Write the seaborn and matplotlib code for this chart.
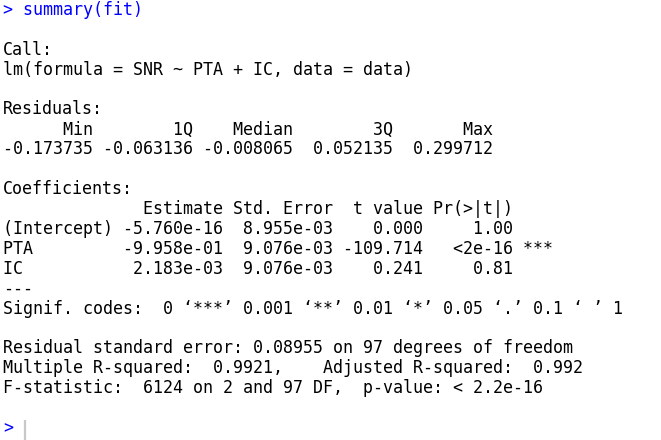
import matplotlib
matplotlib.use("Agg")
import matplotlib.pyplot as plt
import seaborn as sns

# values of the summary(fit) output
call_text = "lm(formula = SNR ~ PTA + IC, data = data)"
resid_labels = ["Min", "1Q", "Median", "3Q", "Max"]
resid_values = [-0.173735, -0.063136, -0.008065, 0.052135, 0.299712]

coef_names = ["(Intercept)", "PTA", "IC"]
coef_estimate = ["-5.760e-16", "-9.958e-01", "2.183e-03"]
coef_stderr = ["8.955e-03", "9.076e-03", "9.076e-03"]
coef_tvalue = [0.000, -109.714, 0.241]
coef_pvalue = ["1.00", "<2e-16", "0.81"]
coef_stars = ["", "***", ""]

resid_se = 0.08955
df_resid = 97
df_model = 2
r_squared = 0.9921
adj_r_squared = 0.992
f_stat = 6124
p_value = "< 2.2e-16"

PROMPT = "#0000ff"
OUTPUT = "#000000"

sns.set_theme(style="white")
plt.rcParams["font.family"] = ["DejaVu Sans Mono"]

# build the console lines
lines = [("> summary(fit)", PROMPT), ("", OUTPUT),
         ("Call:", OUTPUT), (call_text, OUTPUT), ("", OUTPUT),
         ("Residuals:", OUTPUT)]
lines.append((" ".join(l.rjust(9) for l in resid_labels), OUTPUT))
lines.append((" ".join("{:.6f}".format(v).rjust(9) for v in resid_values), OUTPUT))
lines.append(("", OUTPUT))
lines.append(("Coefficients:", OUTPUT))
lines.append(("".ljust(11) + " " + "Estimate".rjust(10) + " " + "Std. Error".rjust(10) + " "
              + "t value".rjust(8) + " " + "Pr(>|t|)".rjust(8), OUTPUT))
for n, e, s, t, p, st in zip(coef_names, coef_estimate, coef_stderr, coef_tvalue, coef_pvalue, coef_stars):
    row = n.ljust(11) + " " + e.rjust(10) + " " + s.rjust(10) + " " + "{:.3f}".format(t).rjust(8) + " " + p.rjust(8) + " " + st
    lines.append((row, OUTPUT))
lines.append(("---", OUTPUT))
lines.append(("Signif. codes:  0 \u2018***\u2019 0.001 \u2018**\u2019 0.01 \u2018*\u2019 0.05 \u2018.\u2019 0.1 \u2018 \u2019 1", OUTPUT))
lines.append(("", OUTPUT))
lines.append(("Residual standard error: {} on {} degrees of freedom".format(resid_se, df_resid), OUTPUT))
lines.append(("Multiple R-squared:  {},".format(r_squared).ljust(32) + "Adjusted R-squared:  {}".format(adj_r_squared), OUTPUT))
lines.append(("F-statistic:  {} on {} and {} DF,  p-value: {}".format(f_stat, df_model, df_resid, p_value), OUTPUT))
lines.append(("", OUTPUT))
lines.append((">", PROMPT))

fig = plt.figure(figsize=(6.61, 4.40), dpi=100)
ax = fig.add_axes([0, 0, 1, 1])
ax.set_xlim(0, 661)
ax.set_ylim(440, 0)
ax.axis("off")

for i, (txt, col) in enumerate(lines):
    if txt:
        ax.text(3, 15 + 19.9 * i, txt, color=col, fontsize=11.95, va="baseline", ha="left")

# text cursor
ax.plot([25, 25], [420, 440], color="#c8c8c8", linewidth=1.6, solid_capstyle="butt")

fig.savefig("out.png", dpi=100, facecolor="white")
